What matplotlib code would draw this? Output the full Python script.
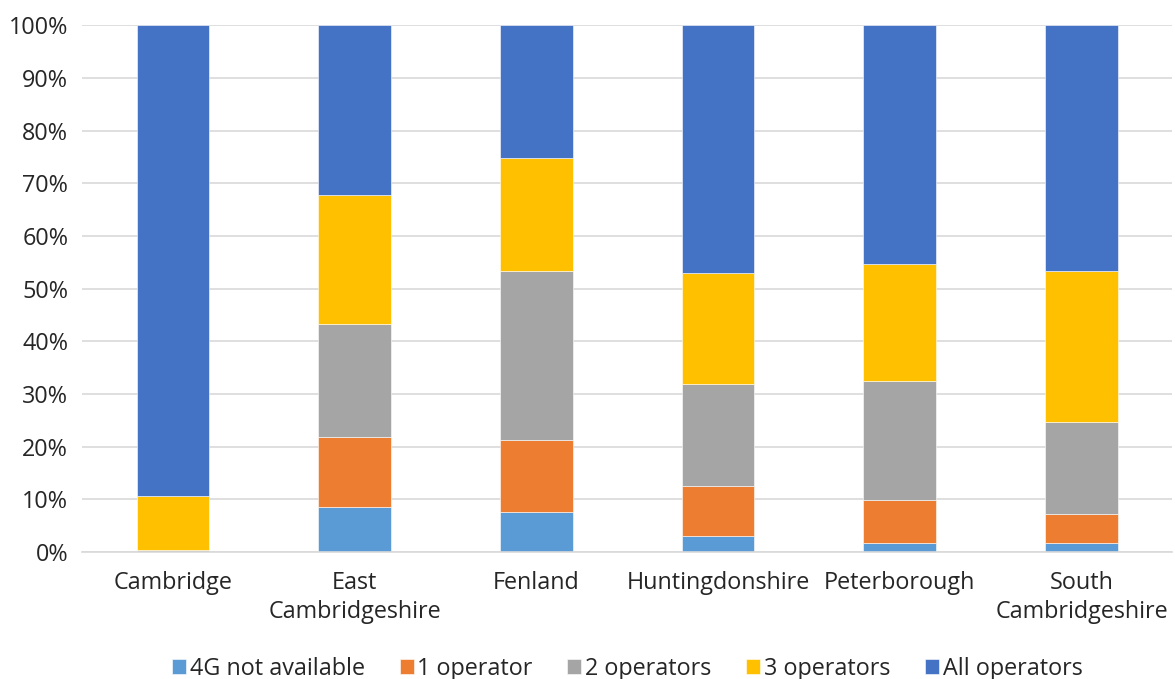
import matplotlib
matplotlib.use("Agg")
import matplotlib.pyplot as plt
import matplotlib.ticker as mticker
import numpy as np

plt.rcParams["font.family"] = ["Open Sans", "DejaVu Sans"]

# ── Data (percent of area) ──────────────────────────────────────────────────
districts = ["Cambridge", "East\nCambridgeshire", "Fenland", "Huntingdonshire",
             "Peterborough", "South\nCambridgeshire"]
no_4g   = [0.0, 8.5, 7.6, 3.1, 1.7, 1.7]
one_op  = [0.0, 13.3, 13.7, 9.4, 8.2, 5.5]
two_op  = [0.4, 21.5, 32.0, 19.4, 22.5, 17.5]
three_op = [10.3, 24.4, 21.5, 21.0, 22.2, 28.6]
all_op  = [89.3, 32.3, 25.2, 47.1, 45.4, 46.7]

series = [
    ("4G not available", no_4g, "#5B9BD5"),
    ("1 operator", one_op, "#ED7D31"),
    ("2 operators", two_op, "#A5A5A5"),
    ("3 operators", three_op, "#FFC000"),
    ("All operators", all_op, "#4472C4"),
]

FS = 16.8

fig = plt.figure(figsize=(11.75, 6.79), dpi=100, facecolor="white")
ax = fig.add_axes([0.0698, 0.187, 0.928, 0.776])

x = np.arange(len(districts))
bottom = np.zeros(len(districts))
for label, vals, color in series:
    vals = np.array(vals)
    ax.bar(x, vals, 0.4, bottom=bottom, color=color, label=label,
           edgecolor="white", linewidth=0.4, zorder=2)
    bottom += vals

ax.set_xlim(-0.5, len(districts) - 0.5)
ax.set_ylim(0, 100)
ax.set_yticks(np.arange(0, 101, 10))
ax.yaxis.set_major_formatter(mticker.FuncFormatter(lambda v, p: f"{v:.0f}%"))
ax.grid(axis="y", color="#d9d9d9", linewidth=1.2, zorder=0)
ax.set_axisbelow(True)
for s in ["top", "right", "left"]:
    ax.spines[s].set_visible(False)
ax.spines["bottom"].set_color("#d9d9d9")
ax.spines["bottom"].set_linewidth(1.2)

ax.set_xticks(x)
ax.set_xticklabels(districts, fontsize=FS, color="#262626", linespacing=1.25)
ax.tick_params(axis="both", length=0, labelsize=FS, colors="#262626")
ax.tick_params(axis="x", pad=14)
ax.tick_params(axis="y", pad=10)

ax.legend(loc="center", bbox_to_anchor=(0.5, -0.222), ncol=5, frameon=False,
          fontsize=FS, handlelength=0.6, handleheight=0.6, handletextpad=0.15,
          columnspacing=1.5, labelcolor="#262626")

fig.savefig("out.png", dpi=100, facecolor="white")
